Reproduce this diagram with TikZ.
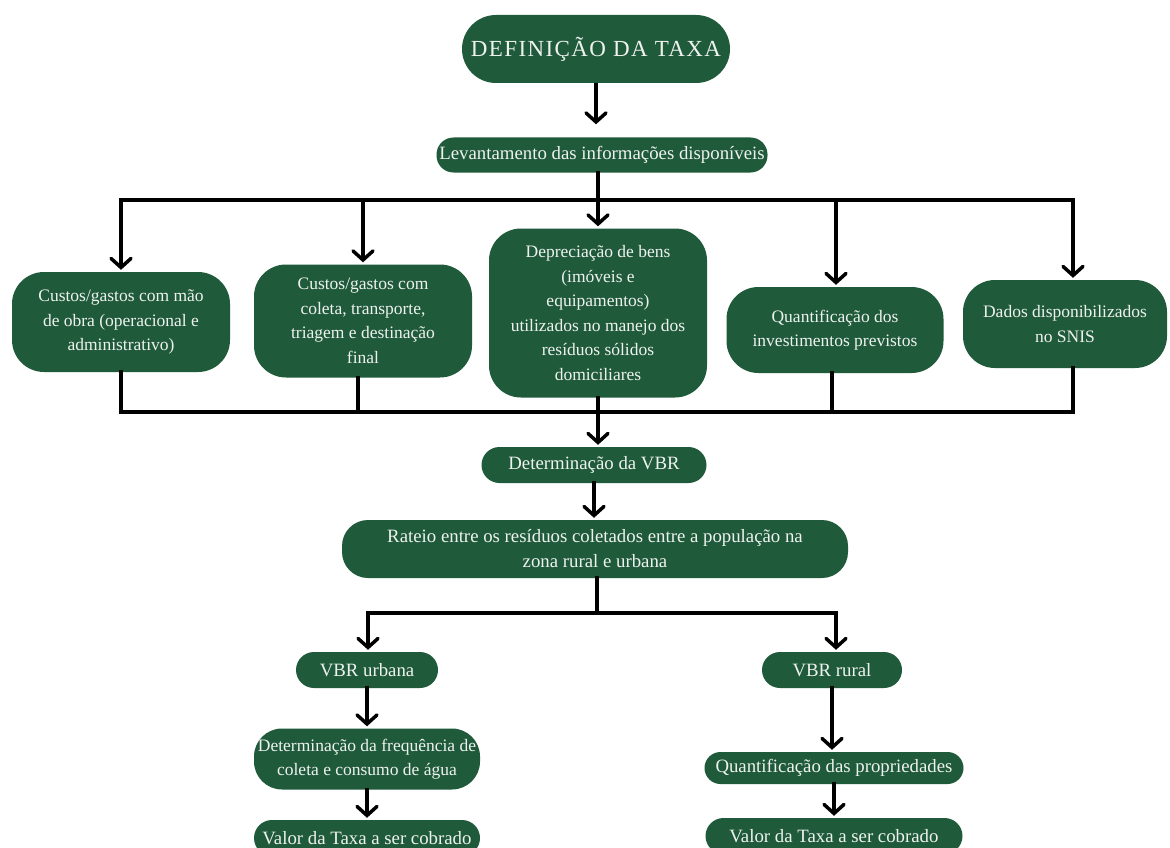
\documentclass[tikz,border=0pt]{standalone}
\usepackage{fontspec}
\setmainfont{Liberation Serif}
\usetikzlibrary{arrows.meta}
\definecolor{dg}{HTML}{1F5A3A}
\definecolor{tx}{HTML}{EEF2EE}
\begin{document}
\begin{tikzpicture}[x=1pt,y=-1pt,
  box/.style={draw=none, fill=dg, text=tx, align=center, inner sep=0pt,
    font=\fontsize{17.5}{24.5}\selectfont},
  big/.style={font=\fontsize{18.8}{25}\selectfont},
  ln/.style={line width=3.5pt, draw=black, line cap=rect},
  arr/.style={ln, -{Straight Barb[length=9pt,width=20pt,line cap=round]}, shorten >=2pt},
]
\useasboundingbox (0,0) rectangle (1170,848);
\fill[white] (0,0) rectangle (1170,848);

\node[box, minimum width=268, minimum height=68, rounded corners=34,
  font=\fontsize{23}{28}\selectfont\addfontfeatures{LetterSpace=6}] (title) at (596,49) {DEFINIÇÃO DA TAXA};
\node[box, big, minimum width=331, minimum height=35, rounded corners=17] (lev) at (602,155) {Levantamento das informações disponíveis};

\node[box, minimum width=218, minimum height=100, rounded corners=32] (b1) at (121,322) {Custos/gastos com mão\\de obra (operacional e\\administrativo)};
\node[box, minimum width=218, minimum height=113, rounded corners=32] (b2) at (363,321) {Custos/gastos com\\coleta, transporte,\\triagem e destinação\\final};
\node[box, minimum width=218, minimum height=169, rounded corners=32] (b3) at (598,313) {Depreciação de bens\\(imóveis e\\equipamentos)\\utilizados no manejo dos\\resíduos sólidos\\domiciliares};
\node[box, minimum width=217, minimum height=86, rounded corners=32] (b4) at (835,330) {Quantificação dos\\investimentos previstos};
\node[box, minimum width=204, minimum height=88, rounded corners=32] (b5) at (1065,324) {Dados disponibilizados\\no SNIS};

\node[box, big, minimum width=225, minimum height=36, rounded corners=18] (det) at (594,465) {Determinação da VBR};
\node[box, big, minimum width=506, minimum height=58, rounded corners=26] (rat) at (595,549) {Rateio entre os resíduos coletados entre a população na\\zona rural e urbana};

\node[box, big, minimum width=142, minimum height=36, rounded corners=18] (vu) at (367,670) {VBR urbana};
\node[box, big, minimum width=140, minimum height=36, rounded corners=18] (vr) at (832,670) {VBR rural};
\node[box, minimum width=226, minimum height=61, rounded corners=28] (df) at (367,759) {Determinação da frequência de\\coleta e consumo de água};
\node[box, big, minimum width=226, minimum height=36, rounded corners=18] (vtl) at (367,838) {Valor da Taxa a ser cobrado};
\node[box, big, minimum width=259, minimum height=32, rounded corners=16] (qp) at (834,768) {Quantificação das propriedades};
\node[box, big, minimum width=257, minimum height=36, rounded corners=18] (vtr) at (834,836) {Valor da Taxa a ser cobrado};

\coordinate (t1) at (121,200);
\coordinate (t2) at (363,200);
\coordinate (t3) at (598,200);
\coordinate (t4) at (836,200);
\coordinate (t5) at (1073,200);
\coordinate (u1) at (121,412);
\coordinate (u2) at (358,412);
\coordinate (u3) at (598,412);
\coordinate (u4) at (832,412);
\coordinate (u5) at (1073,412);
\coordinate (s) at (597,613);
\coordinate (s1) at (368,613);
\coordinate (s2) at (836,613);

\draw[arr, shorten <=2pt, shorten >=13pt] (title.south) -- (title.south |- lev.north);
\draw[ln] (lev.south -| t3) -- (t3);
\draw[ln] (t1) -- (t5);
\draw[arr] (t1) -- (t1 |- b1.north);
\draw[arr] (t2) -- (t2 |- b2.north);
\draw[arr] (t3) -- (t3 |- b3.north);
\draw[arr] (t4) -- (t4 |- b4.north);
\draw[arr] (t5) -- (t5 |- b5.north);

\draw[ln] (b1.south -| u1) -- (u1);
\draw[ln] (b2.south -| u2) -- (u2);
\draw[ln] (b3.south -| u3) -- (u3);
\draw[ln] (b4.south -| u4) -- (u4);
\draw[ln] (b5.south -| u5) -- (u5);
\draw[ln] (u1) -- (u5);
\draw[arr] (u3) -- (u3 |- det.north);
\draw[arr] (det.south) -- (det.south |- rat.north);

\draw[ln] (rat.south -| s) -- (s);
\draw[ln] (s1) -- (s2);
\draw[arr] (s1) -- (s1 |- vu.north);
\draw[arr] (s2) -- (s2 |- vr.north);

\draw[arr] (vu.south) -- (vu.south |- df.north);
\draw[arr] (df.south) -- (df.south |- vtl.north);
\draw[arr] (vr.south) -- (vr.south |- qp.north);
\draw[arr] (qp.south) -- (qp.south |- vtr.north);
\end{tikzpicture}
\end{document}
